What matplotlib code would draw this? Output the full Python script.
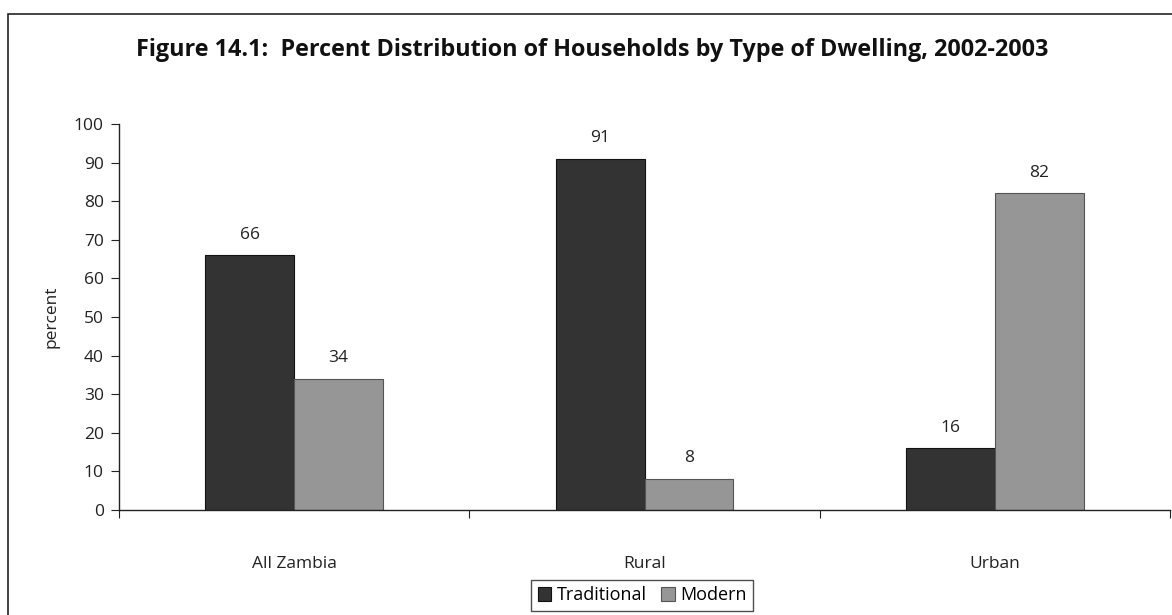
import matplotlib
matplotlib.use("Agg")
import matplotlib.pyplot as plt
import numpy as np
from matplotlib.patches import Rectangle

categories = ["All Zambia", "Rural", "Urban"]
traditional = [66, 91, 16]
modern = [34, 8, 82]
series_names = ["Traditional", "Modern"]
yticks = list(range(0, 101, 10))
title = "Figure 14.1:  Percent Distribution of Households by Type of Dwelling, 2002-2003"

plt.rcParams['font.family'] = ['Open Sans', 'DejaVu Sans']

W, H = 1172, 615
fig = plt.figure(figsize=(W / 100, H / 100), dpi=100)
ax = fig.add_axes([119 / W, 1 - 510 / H, (1170 - 119) / W, (510 - 124) / H])

x = np.arange(len(categories)) + 0.5
bw = 0.254
b1 = ax.bar(x - bw / 2, traditional, bw, color="#333333", edgecolor="#111111", linewidth=0.8, label=series_names[0])
b2 = ax.bar(x + bw / 2, modern, bw, color="#969696", edgecolor="#555555", linewidth=0.8, label=series_names[1])
for bars, vals in ((b1, traditional), (b2, modern)):
    for r, v in zip(bars, vals):
        ax.annotate(str(v), (r.get_x() + r.get_width() / 2, v), xytext=(0, 12),
                    textcoords="offset points", ha="center", va="baseline", fontsize=12.5, color="#222222")

ax.set_xlim(0, len(categories))
ax.set_ylim(0, 100)
ax.set_yticks(yticks)
ax.set_yticklabels([str(t) for t in yticks], fontsize=12.5, color="#222222")
ax.set_xticks(range(len(categories) + 1))
ax.set_xticklabels([])
ax.set_xticks(x, minor=True)
ax.set_xticklabels(categories, minor=True, fontsize=12.5, color="#222222")
ax.tick_params(axis="x", which="minor", length=0, pad=33)
ax.tick_params(axis="x", which="major", length=6, direction="out", color="#222222")
ax.tick_params(axis="y", length=6, direction="out", color="#222222", pad=5)
for s in ("top", "right"):
    ax.spines[s].set_visible(False)
for s in ("left", "bottom"):
    ax.spines[s].set_color("#222222")
    ax.spines[s].set_linewidth(1.0)
ax.set_ylabel("percent", fontsize=12.5, color="#222222", labelpad=10)

fig.text(592 / W, 1 - 50 / H, title, ha="center", va="center",
         fontsize=16.8, fontweight="bold", color="#111111")

leg = fig.legend(handles=[b1, b2], labels=series_names, loc="upper center",
                 bbox_to_anchor=(642 / W, 1 - 580 / H), ncol=2, frameon=True,
                 fancybox=False, edgecolor="#222222", fontsize=13,
                 handlelength=0.75, handleheight=0.75, handletextpad=0.3,
                 columnspacing=0.8, borderpad=0.35, borderaxespad=0)
leg.get_frame().set_linewidth(1.0)

fig.patches.append(Rectangle((8 / W, -0.1), 1.2, 1.1 - 14 / H, transform=fig.transFigure,
                             fill=False, edgecolor="#222222", linewidth=1.2))

fig.savefig("out.png", dpi=100)
